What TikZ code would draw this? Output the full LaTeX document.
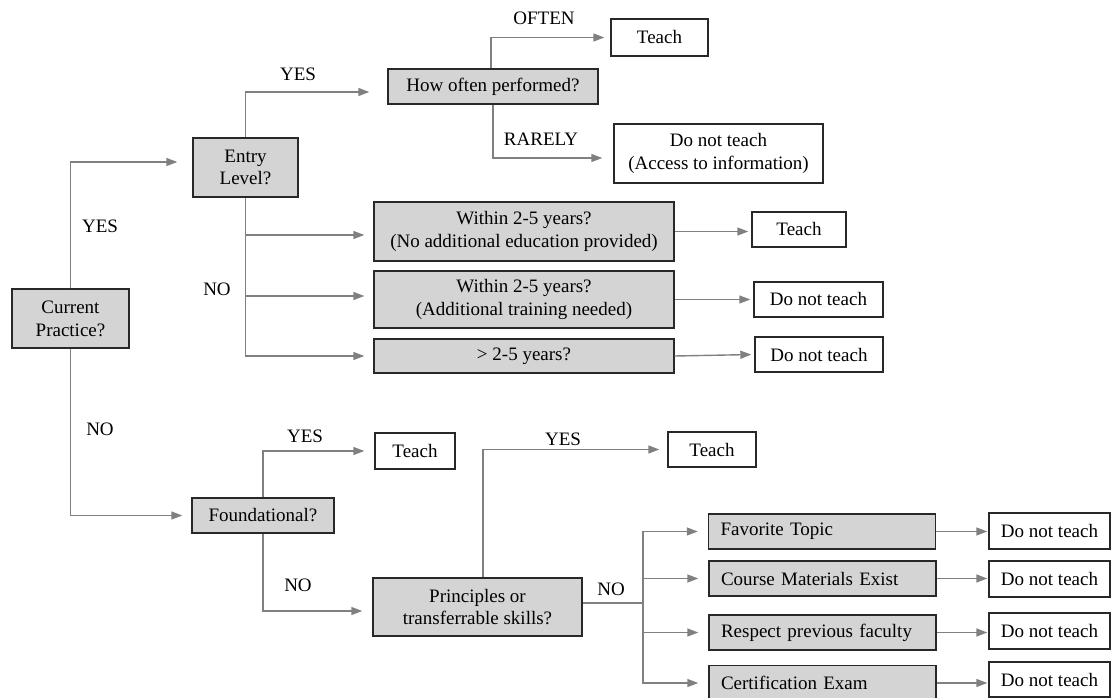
\documentclass[tikz,border=0pt]{standalone}
\usepackage{fontspec}
\setmainfont{Liberation Serif}
\usetikzlibrary{arrows.meta}
\definecolor{boxgray}{RGB}{212,212,212}
\definecolor{edgegray}{RGB}{40,40,40}
\definecolor{linegray}{RGB}{128,128,128}
\tikzset{
    question/.style = {draw = edgegray, line width = 1.4pt, fill = boxgray, align = center, inner sep = 0pt},
    answer/.style = {draw = edgegray, line width = 1.4pt, fill = white, align = center, inner sep = 0pt, minimum height = 35pt},
    reason/.style = {question, text width = 203pt, align = left, inner xsep = 12pt, minimum height = 35pt},
    link/.style = {draw = linegray, line width = 1.4pt, -{Triangle[length = 11pt, width = 8pt]}},
    plain/.style = {draw = linegray, line width = 1.4pt}
}
\begin{document}
\begin{tikzpicture}[x = 1pt, y = -1pt, font = \fontsize{19}{22.8}\selectfont]
    \useasboundingbox (0,0) rectangle (1112,698);
    \node[question, minimum width = 117pt, minimum height = 59pt] (cp) at (70.5,318.5) {Current\\Practice?};
    \node[question, minimum width = 105pt, minimum height = 59pt] (el) at (245.5,167.5) {Entry\\Level?};
    \node[question, minimum width = 210pt, minimum height = 35pt] (hop) at (493,86.5) {How often performed?};
    \node[answer, minimum width = 97pt, minimum height = 37pt] (t1) at (659.5,37.5) {Teach};
    \node[answer, minimum width = 209pt, minimum height = 59pt] (dnt1) at (718.5,153.5) {Do not teach\\(Access to information)};
    \node[question, minimum width = 300pt, minimum height = 59pt] (w1) at (524,231.5) {Within 2-5 years?\\(No additional education provided)};
    \node[question, minimum width = 300pt, minimum height = 57pt] (w2) at (524,299.5) {Within 2-5 years?\\(Additional training needed)};
    \node[question, minimum width = 300pt, minimum height = 34pt] (w3) at (524,356) {> 2-5 years?};
    \node[answer, minimum width = 94pt] (t2) at (799,229.5) {Teach};
    \node[answer, minimum width = 129pt] (dnt2) at (818.5,299.5) {Do not teach};
    \node[answer, minimum width = 128pt] (dnt3) at (819,354.5) {Do not teach};
    \node[question, minimum width = 142pt, minimum height = 35pt] (fd) at (263,515.5) {Foundational?};
    \node[answer, minimum width = 80pt, minimum height = 36pt] (t3) at (415,451) {Teach};
    \node[question, minimum width = 209pt, minimum height = 58pt] (pr) at (477.5,607) {Principles or\\transferrable skills?};
    \node[answer, minimum width = 88pt] (t4) at (712,449.5) {Teach};
    \node[reason] (ft) at (822,531.5) {Favorite Topic};
    \node[reason] (cm) at (822.5,578.5) {Course Materials Exist};
    \node[reason] (rp) at (822.5,632.5) {Respect previous faculty};
    \node[reason] (ce) at (822.5,683) {Certification Exam};
    \node[answer, minimum width = 121pt, minimum height = 36pt] (dn4) at (1049.5,531) {Do not teach};
    \node[answer, minimum width = 121pt, minimum height = 36pt] (dn5) at (1049.5,579) {Do not teach};
    \node[answer, minimum width = 121pt, minimum height = 36pt] (dn6) at (1049.5,631) {Do not teach};
    \node[answer, minimum width = 121pt, minimum height = 35pt] (dn7) at (1049.5,679.5) {Do not teach};
    \node (cpyes) at (100,226) {YES};
    \node (cpno) at (100,429) {NO};
    \node (elyes) at (298,74) {YES};
    \node (elno) at (217,289) {NO};
    \node (often) at (544,18) {OFTEN};
    \node (rarely) at (541,139) {RARELY};
    \node (fdyes) at (305,436) {YES};
    \node (fdno) at (298,585) {NO};
    \node (pryes) at (563,439) {YES};
    \node (prno) at (611,589) {NO};
    \draw[link, shorten > = 15pt] (cp.north) |- ([yshift = 5.5pt]el.west);
    \draw[link, shorten > = 9pt] (cp.south) |- (fd.west);
    \draw[link, shorten > = 18pt] (el.north) |- ([yshift = -5.5pt]hop.west);
    \draw[link, shorten > = 6pt] ([xshift = -2pt]hop.north) |- (t1.west);
    \draw[link, shorten > = 11pt] (hop.south) |- ([yshift = -4.5pt]dnt1.west);
    \draw[link, shorten > = 9pt] (el.south) |- (w3.west);
    \draw[link, shorten > = 9pt] (el.south |- w1.west) ++(0,3.5) -- ([yshift = -3.5pt]w1.west);
    \draw[link, shorten > = 9pt] (el.south |- w2.west) ++(0,-3.5) -- ([yshift = 3.5pt]w2.west);
    \draw[link, shorten > = 3pt] (w1.east) -- (w1.east -| t2.west);
    \draw[link, shorten > = 3pt] (w2.east) -- (w2.east -| dnt2.west);
    \draw[link, shorten > = 3pt] (w3.east) -- (dnt3.west);
    \draw[link, shorten > = 10pt] (fd.north) |- (t3.west);
    \draw[link, shorten > = 10pt] (fd.south) |- ([yshift = -4pt]pr.west);
    \draw[link, shorten > = 8pt] ([xshift = 5.5pt]pr.north) |- (t4.west);
    \coordinate (split) at (643,603);
    \draw[plain] ([yshift = 4pt]pr.east) -- (split);
    \foreach \n in {ft, cm, rp, ce}
        \draw[link, shorten > = 10pt] (split) |- (\n.west);
    \foreach \n/\m in {ft/dn4, cm/dn5, rp/dn6, ce/dn7}
        \draw[link, shorten > = 1pt] (\n.east) -- (\n.east -| \m.west);
\end{tikzpicture}
\end{document}
